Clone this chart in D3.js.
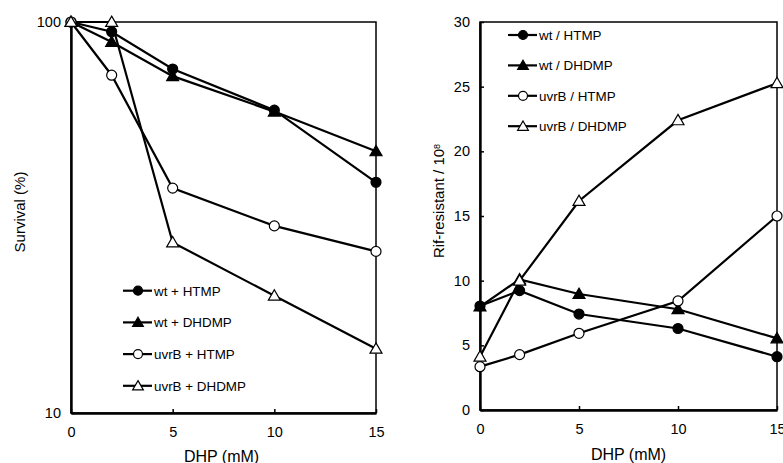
<!DOCTYPE html>
<html>
<head>
<meta charset="utf-8">
<script src="https://cdn.jsdelivr.net/npm/d3@7"></script>
<style>
  body { margin: 0; background: #fff; }
  svg text { font-family: "Liberation Sans", Arial, sans-serif; fill: #000; }
</style>
</head>
<body>
<svg width="783" height="463"></svg>
<script>
const doses = [0, 2, 5, 10, 15];

// left panel: survival (%)
const survWtHtmp = [100, 94.4, 75.8, 59.5, 38.9];
const survWtDhdmp = [100, 88.9, 72.7, 59, 46.7];
const survUvrHtmp = [100, 73.1, 37.6, 30.1, 25.9];
const survUvrDhdmp = [100, 100, 27.3, 19.95, 14.6];
const survTicks = [10, 100];

// right panel: Rif-resistant / 10^8
const rifWtHtmp = [8.04, 9.23, 7.42, 6.3, 4.12];
const rifWtDhdmp = [8.0, 10.1, 8.97, 7.79, 5.54];
const rifUvrHtmp = [3.35, 4.28, 5.93, 8.43, 15.0];
const rifUvrDhdmp = [4.12, 10.0, 16.16, 22.4, 25.27];
const rifTicks = [0, 5, 10, 15, 20, 25, 30];
const xTicks = [0, 5, 10, 15];

const leftNames = ['wt + HTMP', 'wt + DHDMP', 'uvrB + HTMP', 'uvrB + DHDMP'];
const rightNames = ['wt / HTMP', 'wt / DHDMP', 'uvrB / HTMP', 'uvrB / DHDMP'];
const markers = [
  { shape: 'circle', fill: '#000' },
  { shape: 'triangle', fill: '#000' },
  { shape: 'circle', fill: '#fff' },
  { shape: 'triangle', fill: '#fff' }
];

const svg = d3.select('svg');

function drawMarker(g, m, x, y, s = 1) {
  if (m.shape === 'circle') {
    g.append('circle')
      .attr('cx', x).attr('cy', y).attr('r', 5 * s)
      .attr('fill', m.fill).attr('stroke', '#000').attr('stroke-width', 1.2);
  } else {
    g.append('path')
      .attr('d', d3.symbol(d3.symbolTriangle, 62 * s * s)())
      .attr('transform', `translate(${x},${y + 1})`)
      .attr('fill', m.fill).attr('stroke', '#000').attr('stroke-width', 1.2);
  }
}

function panel(opt) {
  const x = d3.scaleLinear().domain([0, 15]).range([opt.x0, opt.x1]);
  const y = opt.y;
  const g = svg.append('g');

  // frame
  g.append('rect')
    .attr('x', opt.x0).attr('y', opt.yTop)
    .attr('width', opt.x1 - opt.x0).attr('height', opt.yBot - opt.yTop)
    .attr('fill', 'none').attr('stroke', '#000').attr('stroke-width', 1.5);

  const xa = g.append('g')
    .attr('transform', `translate(0,${opt.yBot})`)
    .call(d3.axisBottom(x).tickValues(xTicks).tickFormat(d3.format('d'))
      .tickSizeInner(-4).tickSizeOuter(0).tickPadding(14));
  const ya = g.append('g')
    .attr('transform', `translate(${opt.x0},0)`)
    .call(d3.axisLeft(y).tickValues(opt.yTicks).tickFormat(d3.format('d'))
      .tickSizeInner(-4).tickSizeOuter(0).tickPadding(10));
  [xa, ya].forEach(a => {
    a.select('.domain').attr('stroke-width', 2.4);
    a.selectAll('line').attr('stroke-width', 1.5);
    a.selectAll('text').style('font-size', '14.5px');
  });

  const line = d3.line().x((d, i) => x(doses[i])).y(d => y(d));
  opt.series.forEach((s, k) => {
    g.append('path').datum(s)
      .attr('d', line).attr('fill', 'none')
      .attr('stroke', '#000').attr('stroke-width', 2.2);
  });
  opt.series.forEach((s, k) => {
    s.forEach((v, i) => drawMarker(g, markers[k], x(doses[i]), y(v)));
  });

  // legend
  opt.names.forEach((n, k) => {
    const ly = opt.legY + k * opt.legStep;
    g.append('line')
      .attr('x1', opt.legX).attr('x2', opt.legX + 29)
      .attr('y1', ly).attr('y2', ly)
      .attr('stroke', '#000').attr('stroke-width', 2.2);
    drawMarker(g, markers[k], opt.legX + 15, ly, 0.9);
    g.append('text')
      .attr('x', opt.legX + 31).attr('y', ly)
      .attr('dy', '0.36em')
      .style('font-size', '13.4px')
      .text(n);
  });

  // axis titles
  g.append('text')
    .attr('x', (opt.x0 + opt.x1) / 2 + opt.xtDx).attr('y', opt.xtY)
    .attr('text-anchor', 'middle').style('font-size', '16px')
    .text('DHP (mM)');
  const yt = g.append('text')
    .attr('transform', `translate(${opt.ytX},${opt.ytY}) rotate(-90)`)
    .attr('text-anchor', 'middle').style('font-size', '15px');
  yt.text(opt.yTitle);
  if (opt.sup) yt.append('tspan').attr('dy', '-0.45em').style('font-size', '9px').text(opt.sup);
}

panel({
  x0: 71, x1: 376, yTop: 22, yBot: 413,
  y: d3.scaleLog().domain([10, 100]).range([413, 22]),
  yTicks: survTicks,
  series: [survWtHtmp, survWtDhdmp, survUvrHtmp, survUvrDhdmp],
  names: leftNames,
  legX: 123, legY: 290.7, legStep: 31.7,
  xtDx: -2, xtY: 462, ytX: 25, ytY: 212,
  yTitle: 'Survival (%)'
});

panel({
  x0: 480, x1: 777, yTop: 22, yBot: 410,
  y: d3.scaleLinear().domain([0, 30]).range([410, 22]),
  yTicks: rifTicks,
  series: [rifWtHtmp, rifWtDhdmp, rifUvrHtmp, rifUvrDhdmp],
  names: rightNames,
  legX: 508, legY: 35, legStep: 30.4,
  xtDx: 0, xtY: 460, ytX: 444, ytY: 201,
  yTitle: 'Rif-resistant / 10', sup: '8'
});
</script>
</body>
</html>
